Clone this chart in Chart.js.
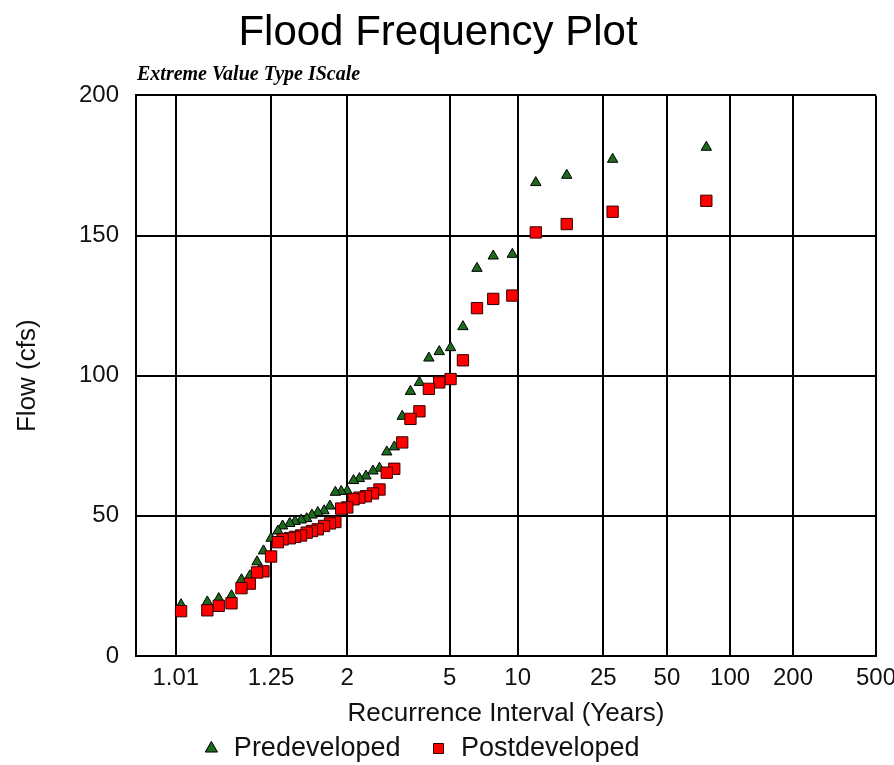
<!DOCTYPE html>
<html>
<head>
<meta charset="utf-8">
<title>Flood Frequency Plot</title>
<script src="https://cdn.jsdelivr.net/npm/chart.js@4.4.1/dist/chart.umd.min.js"></script>
<style>
  html, body { margin: 0; padding: 0; background: #fff; }
  #wrap { width: 894px; height: 765px; }
</style>
</head>
<body>
<div id="wrap"><canvas id="floodChart"></canvas></div>
<script>
// Recurrence interval (years) of each ranked event, rank 1 = largest
const recurrence = [77.0, 27.64, 16.84, 12.11, 9.46, 7.76, 6.57, 5.70, 5.04, 4.51,
  4.08, 3.73, 3.43, 3.18, 2.96, 2.77, 2.60, 2.46, 2.32, 2.20,
  2.10, 2.00, 1.91, 1.83, 1.76, 1.69, 1.62, 1.56, 1.51, 1.46,
  1.41, 1.37, 1.32, 1.29, 1.25, 1.21, 1.18, 1.15, 1.12, 1.09,
  1.06, 1.04, 1.013];

// Flow (cfs), ranked
const predeveloped = [181.5, 177.2, 171.5, 168.9, 143.3, 142.7, 138.3, 117.5, 110.0, 108.6,
  106.3, 97.6, 94.4, 85.5, 74.6, 72.8, 67.0, 66.0, 64.2, 63.3,
  62.6, 58.9, 58.7, 58.4, 53.5, 51.8, 51.2, 50.3, 49.0, 48.5,
  48.0, 47.3, 46.4, 44.6, 42.0, 37.5, 33.6, 28.6, 27.2, 21.5,
  20.5, 19.3, 18.3];

const postdeveloped = [162.4, 158.5, 154.1, 151.1, 128.6, 127.4, 124.1, 105.5, 98.8, 97.6,
  95.3, 87.3, 84.6, 76.2, 66.8, 65.4, 59.4, 58.0, 57.0, 56.5,
  55.9, 53.0, 52.6, 47.8, 47.3, 46.4, 45.2, 44.6, 44.0, 43.0,
  42.5, 42.0, 41.6, 40.6, 35.5, 30.2, 29.8, 25.8, 24.2, 18.8,
  17.9, 16.3, 16.0];

// Tick labels on the x axis (years) and y axis range
const xTickYears = [1.01, 1.25, 2, 5, 10, 25, 50, 100, 200, 500];
const yTicks = [0, 50, 100, 150, 200];

// Extreme Value Type I (Gumbel) reduced variate for a recurrence interval
function gumbel(T) {
  return -Math.log(-Math.log(1 - 1 / T));
}

const FONT = "'Liberation Sans', Arial, sans-serif";

// Draws the small "scale" caption above the plot area
const scaleCaption = {
  id: 'scaleCaption',
  afterDraw(chart) {
    const { ctx, chartArea } = chart;
    ctx.save();
    ctx.font = "italic bold 20px 'Liberation Serif', 'Times New Roman', serif";
    ctx.fillStyle = '#000';
    ctx.textAlign = 'left';
    ctx.textBaseline = 'middle';
    ctx.fillText('Extreme Value Type IScale', chartArea.left + 1, chartArea.top - 21);
    ctx.restore();
  }
};

// Legend in the original sits a bit left of centre and has wide item gaps
const legendShift = {
  id: 'legendShift',
  afterLayout(chart) {
    const lg = chart.legend;
    lg.left -= 17;
    lg.right -= 17;
    lg.top -= 18;
  }
};

const canvas = document.getElementById('floodChart');

new Chart(canvas, {
  type: 'scatter',
  data: {
    datasets: [
      {
        label: 'Predeveloped',
        data: recurrence.map((T, i) => ({ x: gumbel(T), y: predeveloped[i] })),
        pointStyle: 'triangle',
        pointRadius: 6,
        backgroundColor: '#1d6a1d',
        borderColor: '#000',
        borderWidth: 1,
        order: 2
      },
      {
        label: 'Postdeveloped',
        data: recurrence.map((T, i) => ({ x: gumbel(T), y: postdeveloped[i] })),
        pointStyle: 'rect',
        pointRadius: 8,
        backgroundColor: '#ff0000',
        borderColor: '#330000',
        borderWidth: 1,
        order: 1
      }
    ]
  },
  options: {
    responsive: true,
    maintainAspectRatio: false,
    animation: false,
    layout: { padding: { left: 0, right: 18, top: 0, bottom: 0 } },
    scales: {
      x: {
        type: 'linear',
        min: -1.97,
        max: gumbel(500),
        afterBuildTicks: (scale) => {
          scale.ticks = xTickYears.map(T => ({ value: gumbel(T) }));
        },
        afterFit: (scale) => {
          scale.height = 68;
          scale.paddingRight = 18;
          scale.paddingLeft = 0;
        },
        ticks: {
          autoSkip: false,
          maxRotation: 0,
          padding: 8,
          color: '#111',
          font: { family: FONT, size: 24 },
          callback: (value, index) => String(xTickYears[index])
        },
        grid: { color: '#000', lineWidth: 2, drawTicks: false },
        border: { color: '#000', width: 2 },
        title: {
          display: true,
          text: 'Recurrence Interval (Years)',
          color: '#111',
          font: { family: FONT, size: 26, lineHeight: 1 },
          padding: { top: 0, bottom: -3 }
        }
      },
      y: {
        min: 0,
        max: 200,
        afterBuildTicks: (scale) => {
          scale.ticks = yTicks.map(v => ({ value: v }));
        },
        afterFit: (scale) => {
          scale.width = 136;
        },
        ticks: {
          padding: 17,
          color: '#111',
          font: { family: FONT, size: 24 }
        },
        grid: { color: '#000', lineWidth: 2, drawTicks: false },
        border: { color: '#000', width: 2 },
        title: {
          display: true,
          text: 'Flow (cfs)',
          color: '#111',
          font: { family: FONT, size: 26, lineHeight: 1 },
          padding: { top: 15, bottom: 0 }
        }
      }
    },
    plugins: {
      title: {
        display: true,
        text: 'Flood Frequency Plot',
        color: '#000',
        font: { family: FONT, size: 42, weight: 'normal', lineHeight: 1.2 },
        padding: { top: 8, bottom: 37 }
      },
      legend: {
        position: 'bottom',
        maxHeight: 41,
        labels: {
          usePointStyle: true,
          boxWidth: 18,
          boxHeight: 10,
          padding: 29,
          color: '#111',
          font: { family: FONT, size: 27 },
          sort: (a, b) => a.datasetIndex - b.datasetIndex
        }
      },
      tooltip: { enabled: false }
    }
  },
  plugins: [scaleCaption, legendShift]
});
</script>
</body>
</html>
